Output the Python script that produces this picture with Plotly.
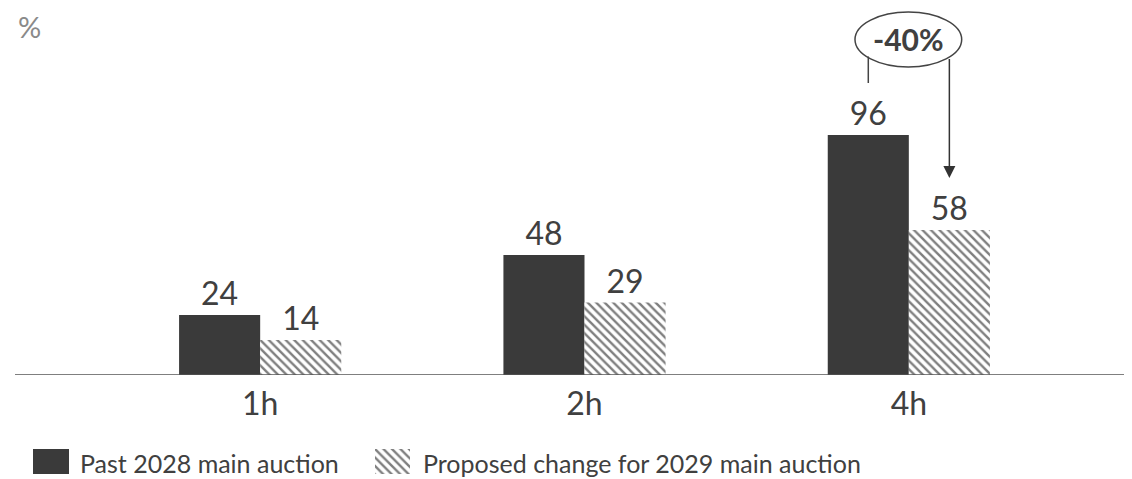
import plotly.graph_objects as go

# chart data
durations = ["1h", "2h", "4h"]
past_2028 = [24, 48, 96]
proposed_2029 = [14, 29, 58]
series_names = ["Past 2028 main auction", "Proposed change for 2029 main auction"]
change_label = "-40%"

W, H = 1132, 479
dark = "#3a3a3a"
txt = "#404040"
hatch = dict(shape="\\", fgcolor="black", bgcolor="white", size=6, solidity=0.4)

def px(x):
    return x / W

def py(y):
    return 1 - y / H

fig = go.Figure()
fig.add_trace(go.Bar(x=durations, y=past_2028, name=series_names[0],
                     marker=dict(color=dark, line=dict(width=0)),
                     text=past_2028, textposition="outside",
                     textfont=dict(size=32, color=txt), cliponaxis=False))
fig.add_trace(go.Bar(x=durations, y=proposed_2029, name=series_names[1],
                     marker=dict(color="white", line=dict(width=0), pattern=hatch),
                     text=proposed_2029, textposition="outside",
                     textfont=dict(size=32, color=txt), cliponaxis=False))

# legend swatches (big keys like the original), drawn in their own tiny axes
fig.add_trace(go.Bar(x=[0], y=[1], width=1, xaxis="x2", yaxis="y2", showlegend=False,
                     hoverinfo="skip", marker=dict(color=dark, line=dict(width=0))))
fig.add_trace(go.Bar(x=[0], y=[1], width=1, xaxis="x3", yaxis="y3", showlegend=False,
                     hoverinfo="skip",
                     marker=dict(color="white", line=dict(width=0), pattern=hatch)))
fig.add_annotation(x=px(70), y=py(455), xref="paper", yref="paper", text=series_names[0],
                   showarrow=False, xanchor="left", yanchor="middle",
                   font=dict(size=25, color=txt))
fig.add_annotation(x=px(413), y=py(455), xref="paper", yref="paper", text=series_names[1],
                   showarrow=False, xanchor="left", yanchor="middle",
                   font=dict(size=25, color=txt))

# baseline running across the whole width
fig.add_shape(type="line", xref="paper", yref="y", x0=px(7), x1=1, y0=0, y1=0,
              line=dict(color="#555555", width=1.5))

# -40% bubble and connectors on the 4h group
fig.add_shape(type="circle", xref="x", yref="y", x0=1.834, x1=2.163, y0=123.2, y1=145.2,
              line=dict(color="#444444", width=1.5), fillcolor="white", layer="above")
fig.add_shape(type="line", xref="x", yref="y", x0=1.875, x1=1.875, y0=116.8, y1=127.4,
              line=dict(color="#444444", width=1.5))
fig.add_annotation(x=2.125, y=78.8, ax=2.125, ay=127.0, xref="x", yref="y",
                   axref="x", ayref="y", text="", showarrow=True,
                   arrowhead=2, arrowsize=1.6, arrowwidth=1.5, arrowcolor="#333333")
fig.add_annotation(x=1.998, y=134.4, xref="x", yref="y", text="<b>" + change_label + "</b>",
                   showarrow=False, font=dict(size=30, color=txt))

# unit label
fig.add_annotation(x=px(9), y=1.0, xref="paper", yref="paper", text="%",
                   showarrow=False, xanchor="left", yanchor="top", borderpad=0,
                   font=dict(size=29, color="#8a8a8a"))

fig.update_layout(
    width=W, height=H,
    margin=dict(l=0, r=0, t=0, b=0),
    plot_bgcolor="white", paper_bgcolor="white",
    font=dict(family="Lato", color=txt),
    barmode="group", bargap=0.5, bargroupgap=0,
    showlegend=False,
    xaxis=dict(domain=[px(90), px(1063)], showline=False, ticks="",
               tickfont=dict(size=32, color=txt), ticklabelstandoff=7,
               showgrid=False, zeroline=False),
    yaxis=dict(domain=[py(367), 1], range=[0, 146.8], visible=False,
               showgrid=False, zeroline=False),
    xaxis2=dict(domain=[px(25), px(61)], anchor="y2", range=[-0.5, 0.5], visible=False),
    yaxis2=dict(domain=[py(466), py(441)], anchor="x2", range=[0, 1], visible=False),
    xaxis3=dict(domain=[px(367), px(402)], anchor="y3", range=[-0.5, 0.5], visible=False),
    yaxis3=dict(domain=[py(466), py(441)], anchor="x3", range=[0, 1], visible=False),
)

fig.write_html("out.html")
